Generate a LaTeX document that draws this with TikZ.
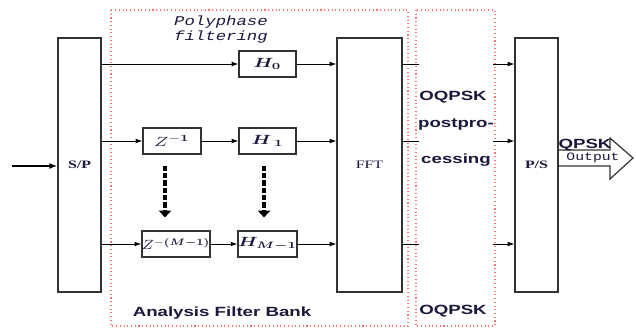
\documentclass[tikz,border=0pt]{standalone}
\usepackage{amsmath}
\usepackage{amssymb}
\usepackage{graphicx}
\usepackage{fontspec}
\usetikzlibrary{arrows.meta}
\newfontfamily\tagfont[FakeStretch=1.4]{Liberation Sans}
\newfontfamily\blockfont[FakeStretch=1.4]{Liberation Serif}
\newfontfamily\typefont[FakeStretch=1.3]{Liberation Mono}
\newcommand{\wmath}[1]{\scalebox{1.4}[1]{$#1$}}
\definecolor{inkblue}{RGB}{25,25,60}
\definecolor{edge}{RGB}{50,50,50}

\tikzset{
  block/.style={draw=edge, rectangle, line width=0.9pt, inner sep=0pt, minimum height=19.5pt, text=inkblue},
  bar/.style={draw=edge, rectangle, line width=0.9pt, inner sep=0pt, minimum width=32.25pt, minimum height=190.5pt, text=inkblue, font=\blockfont\bfseries\fontsize{8.5}{10}\selectfont},
  conn/.style={line width=0.6pt, -{Latex[length=5pt,width=3.5pt]}},
  vdots/.style={line width=3pt, dash pattern=on 4pt off 1.5pt, -{Triangle[length=5pt,width=9pt]}},
  redbox/.style={draw=red!55, dotted, line width=0.8pt},
  tagtext/.style={text=inkblue, font=\tagfont\bfseries\fontsize{10}{12}\selectfont}
}

\begin{document}
\begin{tikzpicture}[x=0.75pt, y=-0.75pt]
\useasboundingbox (0,0) rectangle (636,329);

% Dotted regions
\draw[redbox] (111,10) rectangle (408,326);
\draw[redbox] (416,10) rectangle (495,326);

% Converters and FFT
\node[bar] (sp) at (79.5,165) {S/P};
\node[bar, minimum width=48.75pt, font=\blockfont\fontsize{8.5}{10}\selectfont] (fft) at (369.5,165) {FFT};
\node[bar] (ps) at (536.5,165) {P/S};

% Polyphase branches
\node[block, minimum width=42.75pt] (h0) at (267.5,64) {\wmath{\boldsymbol{H_0}}};
\node[block, minimum width=43.5pt] (z1) at (172,141) {\wmath{Z^{-\boldsymbol{1}}}};
\node[block, minimum width=42.75pt] (h1) at (267.5,141) {\wmath{\boldsymbol{H}_{\,\boldsymbol{1}}}};
\node[block, minimum width=49.5pt] (zm) at (176,244) {\scalebox{1.2}[1]{$Z^{-\boldsymbol{(M-1)}}$}};
\node[block, minimum width=42.75pt] (hm) at (267.5,244) {\wmath{\boldsymbol{H_{M-1}}}};

% Input
\coordinate (in) at (12,166);
\draw[line width=1.8pt, -{Latex[length=6pt,width=4.5pt]}] (in) -- (in -| sp.west);

% Connections into the filter bank
\draw[conn] (sp.east |- h0) -- (h0);
\draw[conn] (sp.east |- z1) -- (z1);
\draw[conn] (z1) -- (h1);
\draw[conn] (sp.east |- zm) -- (zm);
\draw[conn] (zm) -- (hm);
\draw[conn] (h0) -- (h0 -| fft.west);
\draw[conn] (h1) -- (h1 -| fft.west);
\draw[conn] (hm) -- (hm -| fft.west);

% Ellipsis arrows
\draw[vdots, shorten <=8.25pt, shorten >=9.75pt] ([xshift=-5.25pt]z1.south) -- ([xshift=-5.25pt]z1.south |- zm.north);
\draw[vdots, shorten <=8.25pt, shorten >=9.75pt] ([xshift=-2.6pt]h1.south) -- ([xshift=-2.6pt]h1.south |- hm.north);

% Postprocessing stubs
\coordinate (a0) at (419,64);
\coordinate (a1) at (419,141);
\coordinate (a2) at (419,244);
\coordinate (b0) at (493,64);
\coordinate (b1) at (493,141);
\coordinate (b2) at (493,244);
\draw[line width=0.6pt] (fft.east |- a0) -- (a0);
\draw[line width=0.6pt] (fft.east |- a1) -- (a1);
\draw[line width=0.6pt] (fft.east |- a2) -- (a2);
\draw[conn] (b0) -- (b0 -| ps.west);
\draw[conn] (b1) -- (b1 -| ps.west);
\draw[conn] (b2) -- (b2 -| ps.west);

% Output arrow
\draw[draw=edge, line width=0.9pt] (558,150) -- (610,150) -- (610,138) -- (633,158) -- (610,179) -- (610,166) -- (558,166);

% Labels
\node[text=inkblue, font=\typefont\itshape\fontsize{10}{12}\selectfont] (poly) at (221,22) {Polyphase};
\node[text=inkblue, font=\typefont\itshape\fontsize{10}{12}\selectfont] (filt) at (221,37) {filtering};
\node[tagtext] (afb) at (222,313) {Analysis Filter Bank};
\node[tagtext] (oq1) at (453,97) {OQPSK};
\node[tagtext] (post) at (456,125) {postpro-};
\node[tagtext] (cess) at (456,160) {cessing};
\node[tagtext] (oq2) at (453,311) {OQPSK};
\node[tagtext] (qpsk) at (585,145) {QPSK};
\node[text=inkblue, font=\typefont\fontsize{8.5}{10}\selectfont] (outp) at (593,158) {Output};
\end{tikzpicture}
\end{document}
